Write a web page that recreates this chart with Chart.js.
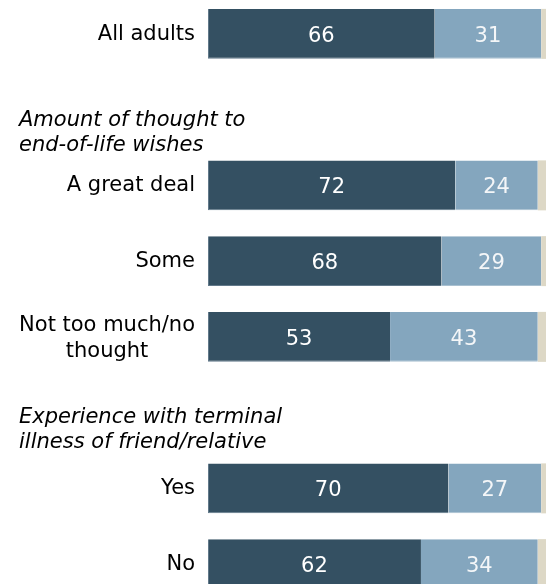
<!DOCTYPE html>
<html>
<head>
<meta charset="utf-8">
<script src="https://cdn.jsdelivr.net/npm/chart.js@4.4.0/dist/chart.umd.min.js"></script>
<style>
  html, body { margin: 0; padding: 0; background: #fff; overflow: hidden; }
  #wrap { position: relative; width: 546px; height: 584px; overflow: hidden; }
  #wrap canvas { position: absolute; left: 0; top: -4px; }
</style>
</head>
<body>
<div id="wrap"><canvas id="chart" width="546" height="610"></canvas></div>
<script>
// rows of the chart, empty rows hold the group titles
var categories = ['All adults', '', 'A great deal', 'Some', ['Not too much/no', 'thought'], '', 'Yes', 'No'];
var allowDie = [66, null, 72, 68, 53, null, 70, 62];
var doEverything = [31, null, 24, 29, 43, null, 27, 34];
var dontKnow = [3, null, 4, 3, 4, null, 3, 4];
var groupTitles = [
  ['Amount of thought to', 'end-of-life wishes'],
  ['Experience with terminal', 'illness of friend/relative']
];
var groupRows = [1, 5];

var FONT = '"DejaVu Sans", Verdana, sans-serif';
Chart.defaults.font.family = FONT;

// draws the row labels and group titles off the y scale
var labelPlugin = {
  id: 'rowLabels',
  afterDraw: function(chart) {
    var ctx = chart.ctx;
    var yScale = chart.scales.y;
    var right = yScale.right - 13;
    ctx.save();
    ctx.fillStyle = '#000';
    ctx.font = '21px ' + FONT;
    ctx.textBaseline = 'alphabetic';
    categories.forEach(function(lab, i) {
      if (!lab) return;
      var yc = yScale.getPixelForValue(i);
      if (Array.isArray(lab)) {
        var w = 0;
        lab.forEach(function(l) { w = Math.max(w, ctx.measureText(l).width); });
        ctx.textAlign = 'center';
        var lh = 26;
        var y0 = yc - (lab.length - 1) * lh / 2 + 7;
        lab.forEach(function(l, k) { ctx.fillText(l, right - w / 2, y0 + k * lh); });
      } else {
        ctx.textAlign = 'right';
        ctx.fillText(lab, right, yc + 6);
      }
    });
    // group titles
    var shift = [16, 10];
    ctx.font = 'italic 21px ' + FONT;
    ctx.textAlign = 'left';
    groupTitles.forEach(function(lines, g) {
      var yc = yScale.getPixelForValue(groupRows[g]);
      lines.forEach(function(l, k) { ctx.fillText(l, 19, yc + shift[g] + k * 25); });
    });
    ctx.restore();
  }
};

// value labels inside the bars
var valuePlugin = {
  id: 'barValues',
  afterDatasetsDraw: function(chart) {
    var ctx = chart.ctx;
    ctx.save();
    ctx.font = '21px ' + FONT;
    ctx.textAlign = 'center';
    ctx.textBaseline = 'alphabetic';
    [0, 1].forEach(function(di) {
      var meta = chart.getDatasetMeta(di);
      var vals = chart.data.datasets[di].data;
      ctx.fillStyle = di === 0 ? '#ffffff' : '#f4f6f8';
      meta.data.forEach(function(el, i) {
        if (vals[i] == null) return;
        ctx.fillText(vals[i], (el.x + el.base) / 2, el.y + 8);
      });
    });
    ctx.restore();
  }
};

new Chart(document.getElementById('chart'), {
  type: 'bar',
  data: {
    labels: categories,
    datasets: [
      {
        label: 'Allow patient to die in some circumstances',
        data: allowDie,
        backgroundColor: '#345062',
        borderColor: '#62798a',
        borderWidth: { left: 1, bottom: 1, top: 0, right: 0 },
        borderSkipped: false
      },
      {
        label: 'Always do everything possible',
        data: doEverything,
        backgroundColor: '#84a6be',
        borderColor: '#a9c0d0',
        borderWidth: { left: 0, bottom: 1, top: 0, right: 0 },
        borderSkipped: false
      },
      {
        label: "Don't know",
        data: dontKnow,
        backgroundColor: '#ddd8c6',
        borderWidth: 0
      }
    ]
  },
  options: {
    indexAxis: 'y',
    responsive: false,
    animation: false,
    events: [],
    layout: { padding: { top: 0, right: 0, bottom: 4, left: 0 } },
    datasets: { bar: { categoryPercentage: 1, barPercentage: 0.66 } },
    scales: {
      x: { stacked: true, min: 0, max: 98.4, display: false },
      y: {
        stacked: true,
        grid: { display: false },
        border: { display: false },
        ticks: { display: false },
        afterFit: function(scale) { scale.width = 208; }
      }
    },
    plugins: {
      legend: { display: false },
      tooltip: { enabled: false }
    }
  },
  plugins: [labelPlugin, valuePlugin]
});
</script>
</body>
</html>
